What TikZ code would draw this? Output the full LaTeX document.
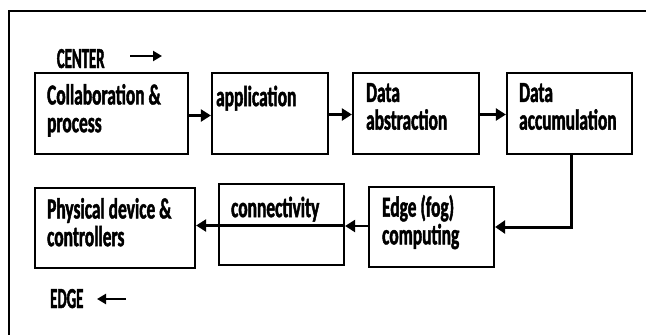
\documentclass[tikz,border=0pt]{standalone}
\usepackage{fontspec}
\usetikzlibrary{arrows.meta,calc}
\newfontfamily\lblfont{Carlito}[FakeStretch=0.60,FakeBold=1.5]
\newfontfamily\capfont{Carlito}[FakeStretch=0.51,FakeBold=1.5]
\begin{document}
\begin{tikzpicture}[x=1pt,y=-1pt,
  stagebox/.style={draw,line width=2.2pt,inner sep=0pt},
  % a fixed-height rule opens the first line so the first baseline
  % always sits 22pt below the top of the text node
  lbl/.style={anchor=north west,inner sep=0pt,align=left,
    font=\lblfont\bfseries\fontsize{29}{27.7}\selectfont,
    execute at begin node={\rule{0pt}{22pt}}},
  dirlbl/.style={anchor=base west,inner sep=0pt,
    font=\capfont\bfseries\fontsize{29}{27.7}\selectfont},
  flow/.style={line width=2.2pt,-{Triangle[length=10pt,width=12pt]}},
  bigflow/.style={line width=3pt,-{Triangle[length=10pt,width=13pt]}},
  dirarrow/.style={line width=2.2pt,-{Triangle[length=9pt,width=10pt]}}]
\useasboundingbox (0,0) rectangle (646,335);
\fill[white] (0,0) rectangle (646,335);
% partial frame: left and top edges
\draw[line width=2.4pt] (9,335) -- (9,11) -- (646,11);

% upper row of stages
\node[stagebox,minimum width=153pt,minimum height=81pt] (collab) at (111.5,113.5) {};
\node[stagebox,minimum width=116pt,minimum height=81pt] (appl) at (270,113.5) {};
\node[stagebox,minimum width=126pt,minimum height=81pt] (abstr) at (416,113.5) {};
\node[stagebox,minimum width=125pt,minimum height=81pt] (accum) at (569.5,113.5) {};
% lower row of stages
\node[stagebox,minimum width=160pt,minimum height=80pt] (phys) at (115,228) {};
\node[stagebox,minimum width=125pt,minimum height=81pt] (conn) at (281.5,224.5) {};
\node[stagebox,minimum width=125pt,minimum height=80pt] (edge) at (431.5,227) {};

% stage texts (first baseline about 34pt below each box top)
\node[lbl] (tcollab) at ($(collab.north west)+(13,12)$) {Collaboration \&\\process};
\node[lbl] (tappl) at ($(appl.north west)+(5,12)$) {application};
\node[lbl] (tabstr) at ($(abstr.north west)+(14,11)$) {Data\\abstraction};
\node[lbl] (taccum) at ($(accum.north west)+(13,11)$) {Data\\accumulation};
\node[lbl] (tphys) at ($(phys.north west)+(13,11)$) {Physical device \&\\controllers};
\node[lbl] (tconn) at ($(conn.north west)+(13,12)$) {connectivity};
\node[lbl] (tedge) at ($(edge.north west)+(14,9)$) {Edge (fog)\\computing};

% flow between stages
\draw[flow] ([yshift=-2pt]collab.east) -- ([yshift=-2pt]collab.east -| appl.west);
\draw[flow] ([yshift=-1pt]appl.east) -- ([yshift=-1pt]appl.east -| abstr.west);
\draw[flow] ([yshift=-1pt]abstr.east) -- ([yshift=-1pt]abstr.east -| accum.west);
\coordinate (bend) at (571,227);
\draw[bigflow] (accum.south -| bend) -- (bend) -- (bend -| edge.east);
\draw[flow] ([yshift=1pt]edge.west) -- ([yshift=1pt]edge.west -| conn.east);
\draw[flow] ([yshift=-1pt]conn.east) -- ([yshift=-1pt]conn.east -| phys.east);

% direction markers
\node[dirlbl] (center) at (56.7,68) {CENTER};
\coordinate (cfrom) at (130,56);
\coordinate (cto) at (162,56);
\draw[dirarrow] (cfrom) -- (cto);
\node[dirlbl] (edgelbl) at (50,308) {EDGE};
\coordinate (efrom) at (126,299);
\coordinate (eto) at (97,299);
\draw[dirarrow] (efrom) -- (eto);
\end{tikzpicture}
\end{document}
